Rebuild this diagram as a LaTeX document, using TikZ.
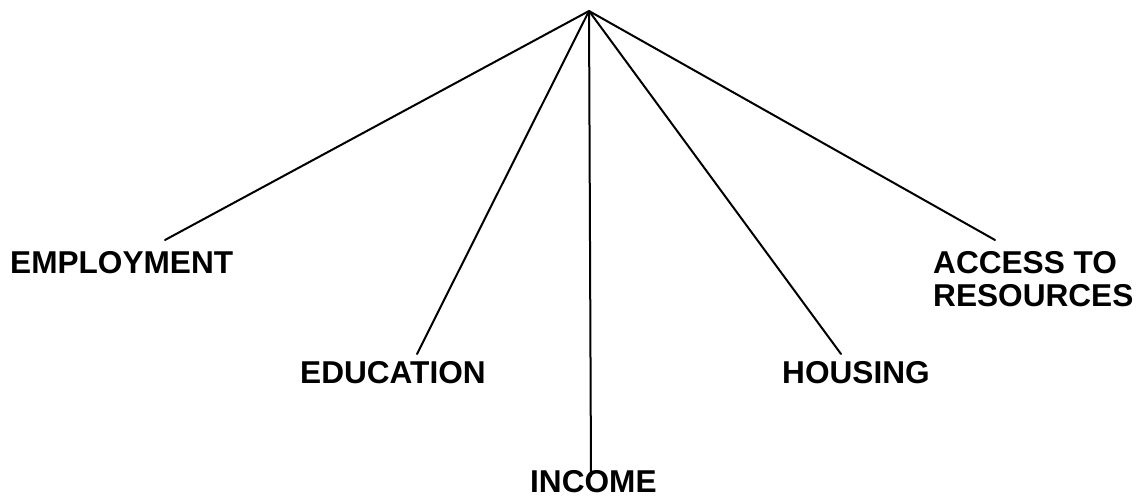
\documentclass[tikz,border=0pt]{standalone}
\usepackage{fontspec}
\setmainfont{Liberation Sans}
\begin{document}
\begin{tikzpicture}[x=1pt,y=-1pt,
  lbl/.style={font=\bfseries\fontsize{31.6}{33}\selectfont,inner sep=0pt,anchor=base west,align=left},
  spoke/.style={line width=2pt,line cap=round}]
\useasboundingbox (0,0) rectangle (1139,497);
\coordinate (apex) at (589,11);
\coordinate (eEmp) at (165,240);
\coordinate (eEdu) at (417,354);
\coordinate (eInc) at (591,476);
\coordinate (eHou) at (841,354);
\coordinate (eAcc) at (995,240);
\node[lbl] (emp) at (10,273) {EMPLOYMENT};
\node[lbl] (edu) at (300,383) {EDUCATION};
\node[lbl] (inc) at (530,492) {INCOME};
\node[lbl] (hou) at (782,383) {HOUSING};
\node[lbl,anchor=north west] (acc) at (933,251) {ACCESS TO\\RESOURCES};
\foreach \e in {eEmp,eEdu,eInc,eHou,eAcc} \draw[spoke] (apex) -- (\e);
\end{tikzpicture}
\end{document}
